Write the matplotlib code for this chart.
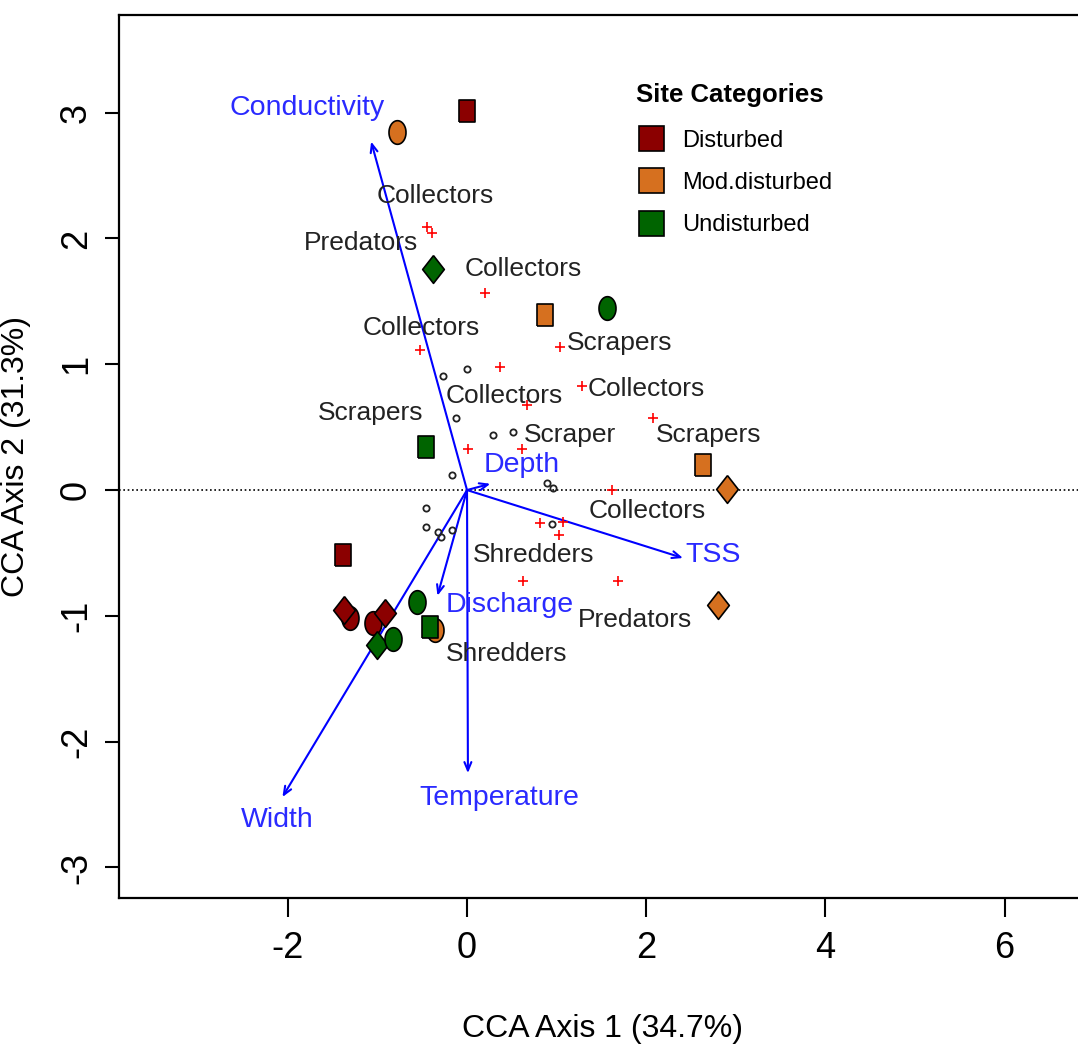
import numpy as np
import matplotlib
matplotlib.use("Agg")
import matplotlib.pyplot as plt
from matplotlib.lines import Line2D

plt.rcParams['font.family'] = ['Liberation Sans', 'DejaVu Sans']
plt.rcParams['axes.unicode_minus'] = False

# site scores
site_x = [0.00, -0.78, -0.38, 0.87, 1.56, -0.46, 2.63, 2.90, 2.80, -1.38,
          -1.31, -1.37, -1.05, -0.92, -1.00, -0.83, -0.56, -0.36, -0.41]
site_y = [3.01, 2.85, 1.76, 1.39, 1.45, 0.34, 0.20, 0.01, -0.91, -0.52,
          -1.02, -0.95, -1.06, -0.98, -1.23, -1.18, -0.89, -1.11, -1.09]
site_cat = ['D', 'M', 'U', 'M', 'U', 'U', 'M', 'M', 'M', 'D',
            'D', 'D', 'D', 'D', 'U', 'U', 'U', 'M', 'U']
site_shape = ['s', 'o', 'D', 's', 'o', 's', 's', 'D', 'D', 's',
              'o', 'D', 'o', 'D', 'D', 'o', 'o', 'o', 's']

# small open circles
circ_x = [-0.27, 0.00, -0.12, 0.29, 0.51, -0.17, 0.96, 0.89, -0.46, -0.46, -0.32, -0.29, -0.17, 0.95]
circ_y = [0.91, 0.96, 0.57, 0.44, 0.46, 0.12, 0.02, 0.06, -0.14, -0.29, -0.33, -0.37, -0.32, -0.27]

# species scores (red crosses)
spec_x = [-0.45, -0.39, 0.20, -0.52, 0.37, 1.04, 1.28, 0.67, 2.08, 0.01,
          0.61, 1.62, 0.81, 1.07, 1.03, 0.63, 1.69]
spec_y = [2.09, 2.04, 1.57, 1.11, 0.98, 1.14, 0.83, 0.68, 0.57, 0.33,
          0.33, 0.00, -0.26, -0.25, -0.36, -0.72, -0.72]

# feeding group labels
lab_text = ['Collectors', 'Predators', 'Collectors', 'Collectors', 'Scrapers',
            'Collectors', 'Collectors', 'Scrapers', 'Scraper', 'Scrapers',
            'Collectors', 'Shredders', 'Predators', 'Shredders']
lab_x = [-0.35, -1.18, 0.63, -0.51, 1.70, 2.00, 0.41, -1.08, 1.15, 2.70, 2.01, 0.74, 1.88, 0.44]
lab_y = [2.34, 1.96, 1.76, 1.29, 1.17, 0.80, 0.75, 0.61, 0.44, 0.44, -0.17, -0.52, -1.03, -1.30]

# environmental vectors
env_names = ['Conductivity', 'Depth', 'TSS', 'Discharge', 'Temperature', 'Width']
env_x = [-1.07, 0.26, 2.41, -0.33, 0.01, -2.06]
env_y = [2.77, 0.05, -0.54, -0.84, -2.25, -2.44]
env_lab_x = [-1.79, 0.61, 2.75, 0.48, 0.36, -2.12]
env_lab_y = [3.04, 0.20, -0.52, -0.91, -2.45, -2.62]

cat_names = ['Disturbed', 'Mod.disturbed', 'Undisturbed']
cat_codes = ['D', 'M', 'U']
cat_colors = ['#8B0000', '#D6701F', '#006400']

# tall markers (the original image is stretched vertically)
t = np.linspace(0, 2 * np.pi, 64)
markers = {
    's': [(-0.77, -1), (0.77, -1), (0.77, 1), (-0.77, 1), (-0.77, -1)],
    'o': list(zip(0.72 * np.cos(t), np.sin(t))),
    'D': [(0, 1), (0.78, 0), (0, -1), (-0.78, 0), (0, 1)],
}
msize = {'s': 15.5, 'o': 17, 'D': 20}

fig = plt.figure(figsize=(10.78, 10.44), dpi=100)
ax = fig.add_axes([0.1104, 0.1398, 0.8961, 0.8458])

ax.axhline(0, color='black', lw=1.2, ls=(0, (1, 1.6)), zorder=1)

for i in range(len(env_names)):
    ax.annotate('', xy=(env_x[i], env_y[i]), xytext=(0, 0),
                arrowprops=dict(arrowstyle='->,head_length=0.6,head_width=0.25',
                                color='blue', lw=1.5, shrinkA=0, shrinkB=0),
                zorder=2)
    ax.text(env_lab_x[i], env_lab_y[i], env_names[i], color='#2a2aff',
            fontsize=20.5, ha='center', va='center', zorder=5)

ax.plot(circ_x, circ_y, 'o', mfc='none', mec='#222222', ms=4.5, mew=1.3, zorder=3)
ax.plot(spec_x, spec_y, '+', color='red', ms=7, mew=1.2, zorder=3)

for i in range(len(lab_text)):
    ax.text(lab_x[i], lab_y[i], lab_text[i], color='#222222', fontsize=19,
            ha='center', va='center', zorder=4)

for i in range(len(site_x)):
    c = cat_colors[cat_codes.index(site_cat[i])]
    shp = site_shape[i]
    ax.plot(site_x[i], site_y[i], marker=markers[shp], ms=msize[shp],
            mfc=c, mec='black', mew=1.2, ls='none', zorder=6)

handles = [Line2D([], [], marker='s', ls='none', mfc=c, mec='black', mew=1.2, ms=18)
           for c in cat_colors]
leg = ax.legend(handles, cat_names, title='Site Categories', loc='upper left',
                bbox_to_anchor=(618 / 1078, 1 - 74 / 1044), bbox_transform=fig.transFigure,
                frameon=False, fontsize=17, title_fontproperties={'weight': 'bold', 'size': 18.5},
                handletextpad=0.3, labelspacing=0.85, borderaxespad=0)
leg._legend_box.sep = 16

ax.set_xlim(-3.884, 6.897)
ax.set_ylim(-3.243, 3.776)
ax.set_xticks([-2, 0, 2, 4, 6])
ax.set_yticks([-3, -2, -1, 0, 1, 2, 3])
ax.tick_params(axis='x', direction='out', length=14, width=1.5, labelsize=26, pad=10)
ax.tick_params(axis='y', direction='out', length=10, width=1.5, labelsize=26, pad=8)
for lab in ax.get_yticklabels():
    lab.set_rotation(90)
    lab.set_va('center')
for sp in ax.spines.values():
    sp.set_linewidth(1.6)

ax.set_xlabel('CCA Axis 1 (34.7%)', fontsize=23, labelpad=34)
ax.set_ylabel('CCA Axis 2 (31.3%)', fontsize=23, labelpad=20)

fig.savefig('out.png', dpi=100)
